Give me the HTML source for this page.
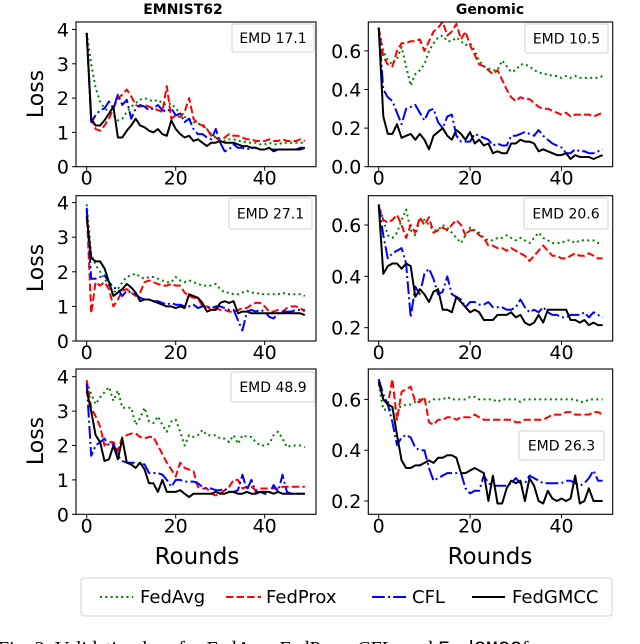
<!DOCTYPE html>
<html><head><meta charset="utf-8"><style>
body{margin:0;background:#fff;width:640px;height:644px;overflow:hidden;position:relative}
svg{position:absolute;left:0;top:0}
text{font-family:"DejaVu Sans","Liberation Sans",sans-serif}
</style></head><body>
<svg id="chart" width="640" height="644" viewBox="0 0 640 644"></svg>
<script>
const rounds = Array.from({length:50},(_,i)=>i);
const seriesNames = ["FedAvg","FedProx","CFL","FedGMCC"];
const xTicks = [0,20,40];
const leftTicks = [0,1,2,3,4];
const rightTicksTop = [0.0,0.2,0.4,0.6];
const rightTicks = [0.2,0.4,0.6];
const emdLabels = ["EMD 17.1","EMD  10.5","EMD 27.1","EMD  20.6","EMD 48.9","EMD  26.3"];

const aAvg=[3.9,3.0,2.3,1.9,1.7,1.6,1.5,1.35,1.4,1.6,1.75,1.85,1.95,2.0,1.95,1.9,1.95,1.85,1.8,1.85,1.7,1.55,1.45,1.4,1.3,1.25,1.25,1.1,0.95,0.85,0.8,0.75,0.8,0.8,0.75,0.75,0.7,0.7,0.7,0.65,0.65,0.7,0.65,0.65,0.7,0.7,0.7,0.7,0.7,0.7];
const aProx=[3.9,1.4,1.1,1.05,1.2,1.4,1.7,2.0,2.1,2.25,2.05,1.8,1.75,1.8,1.75,1.7,1.65,1.6,2.35,1.4,1.5,1.45,1.6,2.0,1.4,1.25,1.2,1.1,0.9,0.85,0.75,0.85,0.95,0.9,0.9,0.85,0.8,0.8,0.75,0.75,0.75,0.8,0.75,0.75,0.8,0.75,0.75,0.75,0.8,0.75];
const aCfl=[3.9,1.3,1.5,1.65,1.7,1.9,1.7,2.1,1.8,1.95,1.4,1.7,1.8,1.75,1.65,1.7,1.8,1.65,1.6,1.7,1.5,1.55,1.3,1.4,1.1,0.95,0.95,0.85,0.8,1.1,0.7,0.45,0.5,0.65,0.55,0.55,0.5,0.55,0.55,0.5,0.5,0.55,0.5,0.5,0.5,0.5,0.5,0.5,0.55,0.55];
const aGm=[3.9,1.4,1.2,1.2,1.35,1.55,1.75,0.85,0.85,1.05,1.2,1.4,1.2,1.15,1.05,1.0,1.1,0.95,0.9,1.35,1.1,0.95,0.85,0.9,0.75,0.8,0.7,0.6,0.7,0.7,0.75,0.7,0.7,0.7,0.65,0.6,0.6,0.55,0.55,0.5,0.5,0.55,0.45,0.5,0.5,0.5,0.5,0.5,0.5,0.55];

const bAvg=[0.72,0.6,0.55,0.53,0.56,0.62,0.52,0.42,0.48,0.5,0.53,0.6,0.64,0.67,0.68,0.65,0.65,0.67,0.65,0.63,0.64,0.6,0.55,0.52,0.51,0.5,0.5,0.55,0.52,0.49,0.5,0.53,0.53,0.52,0.5,0.49,0.48,0.48,0.47,0.47,0.46,0.47,0.46,0.47,0.46,0.46,0.46,0.46,0.46,0.47];
const bProx=[0.72,0.57,0.53,0.52,0.6,0.64,0.64,0.65,0.65,0.66,0.6,0.65,0.7,0.72,0.75,0.68,0.7,0.74,0.66,0.7,0.63,0.58,0.53,0.52,0.5,0.48,0.5,0.45,0.4,0.36,0.34,0.36,0.35,0.35,0.33,0.31,0.3,0.3,0.29,0.28,0.27,0.28,0.26,0.27,0.27,0.27,0.27,0.26,0.27,0.28];
const bCfl=[0.72,0.4,0.36,0.34,0.28,0.22,0.3,0.31,0.32,0.28,0.24,0.29,0.3,0.23,0.2,0.26,0.27,0.16,0.13,0.13,0.13,0.17,0.16,0.15,0.14,0.11,0.12,0.11,0.11,0.16,0.16,0.17,0.18,0.17,0.16,0.19,0.16,0.14,0.12,0.11,0.1,0.07,0.07,0.09,0.08,0.08,0.07,0.07,0.08,0.09];
const bGm=[0.72,0.26,0.17,0.17,0.22,0.15,0.16,0.17,0.14,0.17,0.14,0.09,0.16,0.18,0.2,0.16,0.14,0.19,0.17,0.14,0.18,0.12,0.14,0.11,0.12,0.07,0.08,0.07,0.07,0.12,0.12,0.14,0.13,0.13,0.12,0.08,0.09,0.08,0.07,0.06,0.06,0.07,0.04,0.06,0.05,0.05,0.05,0.04,0.05,0.06];

const cAvg=[3.95,2.5,2.2,2.0,1.8,1.6,1.4,1.5,1.7,1.85,1.9,1.95,1.85,1.8,1.85,1.85,1.8,1.75,1.7,1.7,1.85,1.75,1.7,1.75,1.7,1.65,1.6,1.6,1.6,1.65,1.5,1.4,1.4,1.35,1.35,1.4,1.45,1.4,1.4,1.35,1.35,1.35,1.35,1.35,1.4,1.35,1.35,1.35,1.35,1.3];
const cProx=[3.8,0.8,1.7,1.6,1.7,1.5,1.0,1.2,1.45,1.5,1.4,1.3,1.4,1.7,1.75,1.7,1.65,1.6,1.6,1.65,1.6,1.6,1.4,1.3,1.25,1.25,1.0,1.0,0.9,0.95,0.9,0.9,0.85,0.85,0.9,0.95,0.95,1.05,1.1,1.1,1.0,0.85,0.85,0.9,0.85,0.95,1.0,1.0,0.95,0.85];
const cCfl=[3.85,1.8,1.8,1.85,1.9,1.7,1.55,1.5,1.3,1.45,1.4,1.35,1.25,1.2,1.2,1.15,1.15,1.1,1.05,1.1,1.05,1.05,1.0,1.0,1.05,0.95,1.0,1.0,0.95,1.0,1.0,0.95,0.9,0.9,0.6,0.3,0.85,0.9,0.85,0.9,0.85,0.7,0.65,0.8,0.85,0.85,0.85,0.9,0.9,0.9];
const cGm=[3.6,2.4,2.3,2.3,2.1,1.7,1.3,1.4,1.5,1.65,1.55,1.4,1.15,1.2,1.2,1.15,1.1,1.05,1.0,1.0,0.95,1.0,0.95,1.35,1.3,1.25,1.1,0.85,0.9,0.9,1.1,1.15,1.1,1.15,0.8,0.85,0.85,0.8,0.8,0.8,0.8,0.8,0.8,0.8,0.8,0.8,0.8,0.8,0.8,0.75];

const dAvg=[0.68,0.62,0.56,0.55,0.57,0.62,0.66,0.58,0.56,0.62,0.62,0.6,0.58,0.58,0.6,0.59,0.57,0.55,0.53,0.56,0.59,0.58,0.57,0.55,0.54,0.54,0.55,0.55,0.56,0.55,0.54,0.55,0.54,0.53,0.55,0.57,0.55,0.54,0.53,0.53,0.53,0.54,0.54,0.53,0.54,0.54,0.54,0.54,0.53,0.53];
const dProx=[0.67,0.62,0.61,0.62,0.64,0.6,0.55,0.6,0.57,0.63,0.6,0.63,0.57,0.58,0.59,0.58,0.6,0.62,0.6,0.56,0.58,0.58,0.56,0.55,0.52,0.52,0.51,0.51,0.5,0.51,0.5,0.49,0.48,0.46,0.48,0.5,0.52,0.5,0.48,0.48,0.47,0.47,0.48,0.49,0.48,0.48,0.49,0.48,0.47,0.47];
const dCfl=[0.68,0.56,0.47,0.49,0.5,0.51,0.45,0.24,0.36,0.33,0.41,0.43,0.39,0.33,0.34,0.4,0.33,0.32,0.31,0.28,0.3,0.3,0.29,0.29,0.3,0.28,0.28,0.28,0.27,0.27,0.28,0.31,0.28,0.26,0.27,0.26,0.28,0.26,0.25,0.25,0.24,0.24,0.25,0.25,0.25,0.26,0.24,0.26,0.25,0.24];
const dGm=[0.68,0.41,0.44,0.45,0.45,0.43,0.45,0.44,0.32,0.35,0.33,0.3,0.34,0.35,0.27,0.27,0.26,0.32,0.3,0.28,0.26,0.27,0.26,0.23,0.23,0.23,0.25,0.25,0.25,0.26,0.24,0.25,0.22,0.21,0.22,0.25,0.22,0.27,0.27,0.27,0.27,0.27,0.23,0.23,0.22,0.23,0.21,0.22,0.21,0.21];

const eAvg=[3.85,3.5,3.2,3.4,3.55,3.7,3.3,3.6,3.1,3.1,3.1,2.6,2.8,3.1,2.7,2.65,2.85,2.6,2.4,2.7,2.75,2.4,2.0,2.3,2.25,2.3,2.45,2.3,2.3,2.3,2.2,2.2,2.1,2.3,2.05,2.3,2.25,2.25,2.1,2.0,2.0,2.05,2.3,2.4,2.2,1.95,2.0,2.0,2.0,1.95];
const eProx=[3.9,3.1,2.85,2.55,2.0,2.1,2.1,1.85,2.25,2.3,2.35,2.35,2.25,2.2,2.25,2.25,2.0,1.75,1.5,1.3,1.1,1.5,1.35,1.3,1.25,0.8,0.75,0.75,0.6,0.55,0.6,0.7,0.8,1.0,1.0,0.75,0.8,0.8,0.7,0.75,0.75,0.75,0.75,0.75,0.8,0.8,0.8,0.8,0.8,0.8];
const eCfl=[3.8,1.7,2.0,2.1,2.2,2.0,2.05,1.7,1.55,1.5,1.5,1.5,1.45,1.45,1.2,1.2,1.2,1.15,1.0,0.8,1.0,1.0,0.95,0.95,0.95,0.9,0.8,0.75,0.75,0.7,0.7,0.75,0.65,0.65,0.7,1.15,0.7,1.0,0.65,0.65,0.6,0.6,0.85,0.65,1.15,0.65,0.6,0.6,0.6,0.6];
const eGm=[3.6,3.0,2.3,2.1,1.55,1.6,2.0,1.6,2.2,1.5,1.45,1.35,1.5,1.3,0.9,0.9,0.65,1.0,0.65,0.65,0.65,0.7,0.6,0.5,0.6,0.6,0.6,0.6,0.6,0.65,0.6,0.6,0.65,0.65,0.6,0.6,0.65,0.6,0.6,0.65,0.65,0.65,0.6,0.65,0.6,0.6,0.6,0.6,0.6,0.6];

const fAvg=[0.66,0.56,0.56,0.56,0.57,0.57,0.58,0.58,0.59,0.6,0.6,0.59,0.6,0.6,0.6,0.61,0.6,0.6,0.6,0.6,0.61,0.61,0.6,0.6,0.6,0.6,0.59,0.6,0.6,0.6,0.6,0.59,0.6,0.6,0.6,0.6,0.6,0.6,0.6,0.6,0.6,0.6,0.6,0.6,0.59,0.59,0.6,0.6,0.6,0.6];
const fProx=[0.67,0.6,0.58,0.68,0.52,0.63,0.64,0.65,0.59,0.59,0.61,0.51,0.5,0.52,0.52,0.53,0.53,0.52,0.53,0.53,0.53,0.54,0.53,0.52,0.52,0.52,0.52,0.52,0.52,0.52,0.51,0.51,0.52,0.52,0.52,0.52,0.52,0.53,0.54,0.54,0.54,0.55,0.55,0.54,0.54,0.54,0.54,0.55,0.55,0.54];
const fCfl=[0.68,0.62,0.58,0.51,0.42,0.45,0.46,0.45,0.41,0.4,0.4,0.33,0.28,0.29,0.3,0.31,0.31,0.31,0.31,0.25,0.23,0.24,0.24,0.3,0.27,0.26,0.26,0.26,0.26,0.27,0.29,0.27,0.27,0.3,0.29,0.28,0.27,0.27,0.27,0.27,0.27,0.28,0.28,0.27,0.26,0.27,0.29,0.32,0.28,0.28];
const fGm=[0.67,0.6,0.58,0.57,0.46,0.36,0.33,0.33,0.34,0.34,0.35,0.36,0.35,0.37,0.37,0.38,0.38,0.37,0.31,0.31,0.32,0.33,0.32,0.31,0.2,0.3,0.19,0.19,0.25,0.28,0.27,0.28,0.2,0.29,0.26,0.2,0.19,0.24,0.21,0.2,0.21,0.2,0.21,0.3,0.19,0.2,0.25,0.2,0.2,0.2];

const NS="http://www.w3.org/2000/svg";
const svg=document.getElementById('chart');
function mk(tag,attrs,parent){const e=document.createElementNS(NS,tag);for(const k in attrs)e.setAttribute(k,attrs[k]);(parent||svg).appendChild(e);return e;}

const styles=[
 {color:"#008000",dash:"2 3.3"},
 {color:"#ff0000",dash:"7.4 3.2"},
 {color:"#0000ff",dash:"12.8 3.2 2 3.2"},
 {color:"#000000",dash:""}
];

const panels=[
 {id:"emnist-emd17",series:[aAvg,aProx,aCfl,aGm],bx0:76,bx1:316,by0:22,by1:166.7,x0:86.7,xs:4.45,v0:0,py0:166.7,ys:34.3,ticks:leftTicks,fmt:v=>String(v),emd:[232,24,82,28]},
 {id:"genomic-emd10",series:[bAvg,bProx,bCfl,bGm],bx0:368.3,bx1:612.7,by0:22,by1:166.7,x0:378.7,xs:4.57,v0:0,py0:166.7,ys:193,ticks:rightTicksTop,fmt:v=>v.toFixed(1),emd:[525,24,83,29]},
 {id:"emnist-emd27",series:[cAvg,cProx,cCfl,cGm],bx0:76,bx1:316,by0:195.7,by1:341,x0:86.7,xs:4.45,v0:0,py0:341,ys:34.6,ticks:leftTicks,fmt:v=>String(v),emd:[229,198,83,31]},
 {id:"genomic-emd20",series:[dAvg,dProx,dCfl,dGm],bx0:368.3,bx1:612.7,by0:195.7,by1:341,x0:378.7,xs:4.57,v0:0.2,py0:327.7,ys:256.7,ticks:rightTicks,fmt:v=>v.toFixed(1),emd:[524,198,84,31]},
 {id:"emnist-emd48",series:[eAvg,eProx,eCfl,eGm],bx0:76,bx1:316,by0:369,by1:514.3,x0:86.7,xs:4.45,v0:0,py0:514.3,ys:34.4,ticks:leftTicks,fmt:v=>String(v),emd:[231,372,84,30]},
 {id:"genomic-emd26",series:[fAvg,fProx,fCfl,fGm],bx0:368.3,bx1:612.7,by0:369,by1:514.3,x0:378.7,xs:4.57,v0:0.2,py0:501,ys:254,ticks:rightTicks,fmt:v=>v.toFixed(1),emd:[519,431,85,29]}
];

panels.forEach((p,pi)=>{
 const g=mk('g',{});
 
 
 const X=r=>p.x0+r*p.xs;
 const Y=v=>p.py0-(v-p.v0)*p.ys;
 const clipId='clip'+pi;
 const cp=mk('clipPath',{id:clipId},g);
 mk('rect',{x:p.bx0,y:p.by0,width:p.bx1-p.bx0,height:p.by1-p.by0},cp);
 p.series.forEach((vals,si)=>{
  const d=vals.map((v,i)=>(i?'L':'M')+X(rounds[i]).toFixed(1)+','+Y(v).toFixed(1)).join(' ');
  const path=mk('path',{d:d,fill:'none',stroke:styles[si].color,'stroke-width':2,'stroke-dasharray':styles[si].dash,'clip-path':'url(#'+clipId+')','stroke-linejoin':'round'},g);
  
  
 });
 const box=mk('rect',{x:p.bx0,y:p.by0,width:p.bx1-p.bx0,height:p.by1-p.by0,fill:'none',stroke:'#000','stroke-width':1.1},g);
 
 
 p.ticks.forEach(t=>{
  const y=Y(t);
  mk('line',{x1:p.bx0-4,x2:p.bx0,y1:y,y2:y,stroke:'#000','stroke-width':1},g);
  const tx=mk('text',{x:p.bx0-7,y:y+7,'font-size':19,'text-anchor':'end'},g);
  tx.textContent=p.fmt(t);
  
  
 });
 xTicks.forEach(t=>{
  const x=X(t);
  mk('line',{x1:x,x2:x,y1:p.by1,y2:p.by1+4,stroke:'#000','stroke-width':1},g);
  const tx=mk('text',{x:x,y:p.by1+18,'font-size':19,'text-anchor':'middle'},g);
  tx.textContent=String(t);
  
  
 });
 const [ex,ey,ew,eh]=p.emd;
 const eb=mk('rect',{x:ex,y:ey,width:ew,height:eh,rx:2,fill:'#fff','fill-opacity':0.85,stroke:'#d0d0d0','stroke-width':1},g);
 
 
 const et=mk('text',{x:ex+ew/2,y:ey+eh/2+5,'font-size':14,'text-anchor':'middle','xml:space':'preserve'},g);
 et.textContent=emdLabels[pi];
 
 
});
</script>
<svg width="640" height="644" style="pointer-events:none">
 <text x="183" y="14" font-size="14" font-weight="bold" text-anchor="middle">EMNIST62</text>
 <text x="490" y="14" font-size="14" font-weight="bold" text-anchor="middle">Genomic</text>
 <text transform="translate(43,94) rotate(-90)" font-size="22" text-anchor="middle">Loss</text>
 <text transform="translate(43,268) rotate(-90)" font-size="22" text-anchor="middle">Loss</text>
 <text transform="translate(43,441) rotate(-90)" font-size="22" text-anchor="middle">Loss</text>
 <text x="197" y="564" font-size="23" text-anchor="middle">Rounds</text>
 <text x="490" y="564" font-size="23" text-anchor="middle">Rounds</text>
 <g>
  <rect x="81" y="578" width="531" height="38" rx="3" fill="#fff" stroke="#d0d0d0" stroke-width="1"/>
  <g>
   <line x1="100" x2="133" y1="597" y2="597" stroke="#008000" stroke-width="2" stroke-dasharray="2 3.3"/>
   <text x="140" y="603" font-size="18">FedAvg</text>
  </g>
  <g>
   <line x1="226" x2="261" y1="597" y2="597" stroke="#ff0000" stroke-width="2" stroke-dasharray="7.4 3.2"/>
   <text x="266" y="603" font-size="18">FedProx</text>
  </g>
  <g>
   <line x1="372" x2="408" y1="597" y2="597" stroke="#0000ff" stroke-width="2" stroke-dasharray="12.8 3.2 2 3.2"/>
   <text x="412" y="603" font-size="18">CFL</text>
  </g>
  <g>
   <line x1="472" x2="505" y1="597" y2="597" stroke="#000" stroke-width="2"/>
   <text x="512" y="603" font-size="18">FedGMCC</text>
  </g>
 </g>
 <text x="-2" y="655" font-size="20" style="font-family:'Liberation Serif',serif">Fig. 3: Validation loss for FedAvg, FedProx, CFL, and <tspan style="font-family:'Liberation Mono',monospace">FedGMCC</tspan>for</text>
</svg>
</body></html>
